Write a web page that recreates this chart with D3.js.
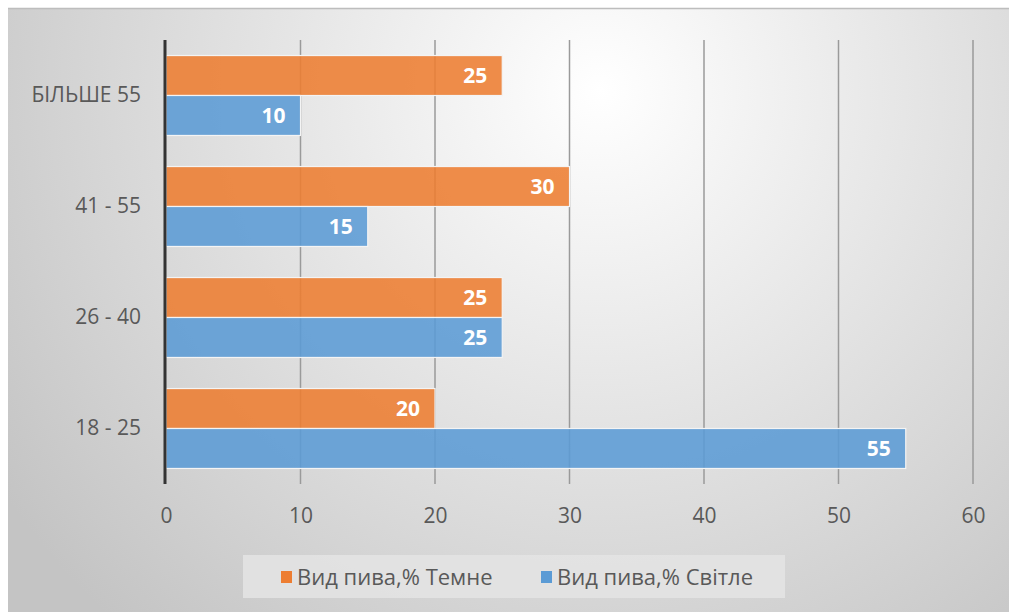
<!DOCTYPE html>
<html><head><meta charset="utf-8">
<script src="https://cdn.jsdelivr.net/npm/d3@7"></script>
<style>
html,body{margin:0;padding:0;background:#fff;}
svg{display:block;}
text{font-family:"Open Sans",sans-serif;}
</style></head>
<body>
<svg id="c" width="1009" height="612"></svg>
<script>
const categories = ["18 - 25", "26 - 40", "41 - 55", "БІЛЬШЕ 55"];
const seriesNames = ["Вид пива,% Темне", "Вид пива,% Світле"];
const darkValues = [20, 25, 30, 25];
const lightValues = [55, 25, 15, 10];
const xTicks = [0, 10, 20, 30, 40, 50, 60];
const colors = ["#ED7D31", "#5B9BD5"];
const FONT = '"Open Sans",sans-serif';

const svg = d3.select("#c");
const defs = svg.append("defs");
const grad = defs.append("radialGradient").attr("id","bg")
  .attr("gradientUnits","userSpaceOnUse")
  .attr("cx",600).attr("cy",90).attr("r",720);
grad.append("stop").attr("offset","0%").attr("stop-color","#ffffff");
grad.append("stop").attr("offset","100%").attr("stop-color","#c4c4c4");

svg.append("rect").attr("x",8).attr("y",8).attr("width",1001).attr("height",604).attr("fill","url(#bg)");
svg.append("line").attr("x1",8).attr("x2",1009).attr("y1",8.5).attr("y2",8.5).attr("stroke","#bdbdbd").attr("stroke-width",1.5);

const pL = 166, pR = 973, pT = 40, pB = 484;
const x = d3.scaleLinear().domain([0, 60]).range([pL, pR]);
const y = d3.scaleBand().domain(categories.slice().reverse()).range([pT, pB]).paddingInner(0.28).paddingOuter(0.14);
const ySub = d3.scaleBand().domain(seriesNames).range([0, y.bandwidth()]);

// gridlines
svg.append("g").selectAll("line").data(xTicks.slice(1)).join("line")
  .attr("x1", d => x(d)).attr("x2", d => x(d))
  .attr("y1", pT).attr("y2", pB)
  .attr("stroke", "#9a9a9a").attr("stroke-width", 1.5);

// bars
const data = [];
categories.forEach((c, i) => {
  data.push({cat: c, s: seriesNames[0], v: darkValues[i], col: colors[0]});
  data.push({cat: c, s: seriesNames[1], v: lightValues[i], col: colors[1]});
});
const bars = svg.append("g");
bars.selectAll("rect").data(data).join("rect")
  .attr("x", x(0))
  .attr("y", d => y(d.cat) + ySub(d.s))
  .attr("width", d => x(d.v) - x(0))
  .attr("height", ySub.bandwidth())
  .attr("fill", d => d.col).attr("fill-opacity", 0.88)
  .attr("stroke", "#f4f4f4").attr("stroke-width", 1.2);

bars.selectAll("text").data(data).join("text")
  .attr("x", d => x(d.v) - 15)
  .attr("y", d => y(d.cat) + ySub(d.s) + ySub.bandwidth()/2)
  .attr("dy", "0.36em").attr("text-anchor", "end")
  .attr("fill", "#ffffff").attr("font-weight", "bold").attr("font-size", 21)
  .text(d => d.v);

// y axis line
svg.append("line").attr("x1", x(0)-1).attr("x2", x(0)-1).attr("y1", pT).attr("y2", pB)
  .attr("stroke", "#333").attr("stroke-width", 3);

// y labels
const yAx = d3.axisLeft(y).tickSize(0).tickPadding(25);
const gy = svg.append("g").attr("transform", `translate(${x(0)},0)`).call(yAx);
gy.select(".domain").remove();
gy.selectAll("text").attr("font-size", 21).attr("fill", "#595959").style("font-family", FONT);

// x labels
const xAx = d3.axisBottom(x).tickValues(xTicks).tickSize(0).tickPadding(24);
const gx = svg.append("g").attr("transform", `translate(0,${pB})`).call(xAx);
gx.select(".domain").remove();
gx.selectAll("text").attr("font-size", 21).attr("fill", "#595959").style("font-family", FONT);

// legend
svg.append("rect").attr("x", 243).attr("y", 555).attr("width", 542).attr("height", 43)
  .attr("fill", "#e4e4e4").attr("fill-opacity", 0.85);
const legX = [281, 541];
const lg = svg.append("g").selectAll("g").data(seriesNames).join("g")
  .attr("transform", (d, i) => `translate(${legX[i]},577)`);
lg.append("rect").attr("x", 0).attr("y", -6).attr("width", 11).attr("height", 12)
  .attr("fill", (d, i) => colors[i]);
lg.append("text").attr("x", 16).attr("dy", "0.36em").attr("font-size", 22).attr("fill", "#595959")
  .style("font-family", FONT).text(d => d);
</script>
</body></html>
